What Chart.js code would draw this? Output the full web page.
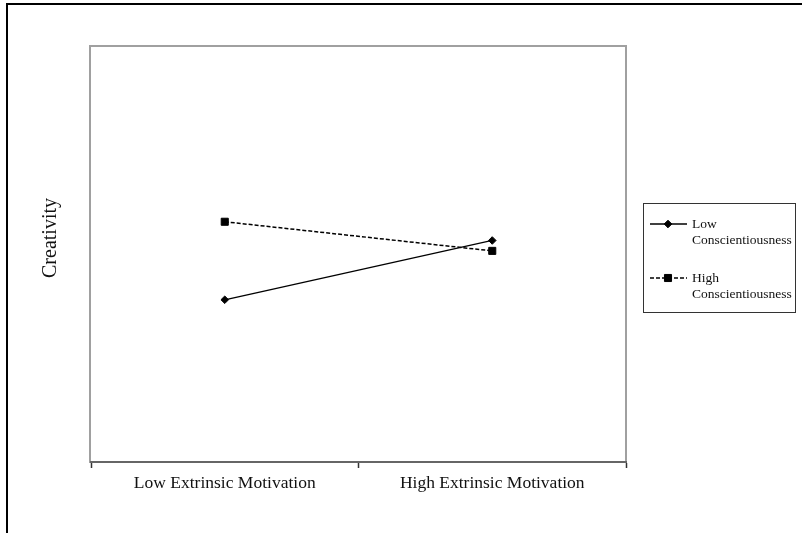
<!DOCTYPE html>
<html>
<head>
<meta charset="utf-8">
<script src="https://cdn.jsdelivr.net/npm/chart.js@4.4.1/dist/chart.umd.min.js"></script>
<style>
  html, body { margin: 0; padding: 0; background: #fff; overflow: hidden; }
  #wrap { position: relative; width: 802px; height: 533px; }
  #frame { position: absolute; left: 6px; top: 3px; width: 900px; height: 700px; border: 2px solid #000; box-sizing: border-box; pointer-events: none; }
  canvas { position: absolute; left: 0; top: 0; }
</style>
</head>
<body>
<div id="wrap">
  <canvas id="c" width="802" height="533"></canvas>
  <div id="frame"></div>
</div>
<script>
// Simple-slopes plot: creativity by extrinsic motivation, split by conscientiousness
const categories = ['Low Extrinsic Motivation', 'High Extrinsic Motivation'];
const lowConscientiousness = [2.56, 3.13];
const highConscientiousness = [3.31, 3.03];
const seriesNames = [['Low', 'Conscientiousness'], ['High', 'Conscientiousness']];
const yTitle = 'Creativity';
const yRange = [1, 5];

const serif = '"Liberation Serif", "Times New Roman", serif';

// Grey frame round the plot area
const plotFrame = {
  id: 'plotFrame',
  beforeDraw(chart) {
    const { ctx, chartArea: a } = chart;
    ctx.save();
    ctx.strokeStyle = '#a0a0a0';
    ctx.lineWidth = 2;
    ctx.strokeRect(a.left - 1, a.top, a.right - a.left + 1, a.bottom - a.top);
    ctx.restore();
  }
};

// Rotated axis title left of the plot
const sideTitle = {
  id: 'sideTitle',
  afterDraw(chart) {
    const { ctx } = chart;
    ctx.save();
    ctx.translate(51, 238);
    ctx.rotate(-Math.PI / 2);
    ctx.font = '20px ' + serif;
    ctx.fillStyle = '#111';
    ctx.textAlign = 'center';
    ctx.textBaseline = 'middle';
    ctx.fillText(yTitle, 0, 0);
    ctx.restore();
  }
};

// Boxed legend with two-line labels, styled from each dataset
const boxLegend = {
  id: 'boxLegend',
  afterDraw(chart) {
    const { ctx } = chart;
    const box = { x: 643.5, y: 203.5, w: 152, h: 109 };
    ctx.save();
    ctx.fillStyle = '#fff';
    ctx.fillRect(box.x, box.y, box.w, box.h);
    ctx.strokeStyle = '#333';
    ctx.lineWidth = 1;
    ctx.strokeRect(box.x, box.y, box.w, box.h);
    const rows = [224, 278];
    chart.data.datasets.forEach((ds, i) => {
      const y = rows[i];
      ctx.save();
      ctx.strokeStyle = ds.borderColor;
      ctx.lineWidth = ds.borderWidth;
      ctx.setLineDash(ds.borderDash || []);
      ctx.beginPath();
      ctx.moveTo(650, y);
      ctx.lineTo(687, y);
      ctx.stroke();
      ctx.restore();
      ctx.save();
      ctx.fillStyle = ds.pointBackgroundColor;
      ctx.strokeStyle = ds.pointBorderColor;
      ctx.lineWidth = 1;
      Chart.helpers.drawPoint(ctx, {
        pointStyle: ds.pointStyle, radius: ds.pointRadius, borderWidth: 1, rotation: 0
      }, 668, y);
      ctx.restore();
      ctx.fillStyle = '#111';
      ctx.font = '13.5px ' + serif;
      ctx.textAlign = 'left';
      ctx.textBaseline = 'alphabetic';
      const lines = seriesNames[i];
      ctx.fillText(lines[0], 692, y + 4);
      ctx.fillText(lines[1], 692, y + 20);
    });
    ctx.restore();
  }
};

new Chart(document.getElementById('c'), {
  type: 'line',
  data: {
    labels: categories,
    datasets: [
      {
        label: seriesNames[0].join(' '),
        data: lowConscientiousness,
        borderColor: '#000',
        backgroundColor: '#000',
        borderWidth: 1.3,
        pointStyle: 'rectRot',
        pointRadius: 3.8,
        pointBorderWidth: 1,
        pointBackgroundColor: '#000',
        pointBorderColor: '#000',
        tension: 0
      },
      {
        label: seriesNames[1].join(' '),
        data: highConscientiousness,
        borderColor: '#000',
        backgroundColor: '#000',
        borderWidth: 1.5,
        borderDash: [4, 2],
        pointStyle: 'rect',
        pointRadius: 5,
        pointBorderWidth: 1,
        pointBackgroundColor: '#000',
        pointBorderColor: '#000',
        tension: 0
      }
    ]
  },
  options: {
    responsive: false,
    animation: false,
    devicePixelRatio: 1,
    layout: { padding: { left: 0, top: 46, right: 176, bottom: 0 } },
    plugins: {
      legend: { display: false },
      tooltip: { enabled: false }
    },
    scales: {
      x: {
        type: 'category',
        offset: true,
        afterFit(scale) { scale.height = 71; },
        grid: {
          display: true,
          offset: true,
          drawOnChartArea: false,
          drawTicks: true,
          tickLength: 6,
          tickColor: '#333',
          tickWidth: 1.5
        },
        border: { display: true, color: '#666', width: 2 },
        ticks: {
          color: '#111',
          font: { family: serif, size: 17.5 },
          padding: 5,
          maxRotation: 0,
          autoSkip: false
        }
      },
      y: {
        min: yRange[0],
        max: yRange[1],
        afterFit(scale) { scale.width = 91; },
        grid: { display: false },
        border: { display: false },
        ticks: { display: false }
      }
    }
  },
  plugins: [plotFrame, sideTitle, boxLegend]
});
</script>
</body>
</html>
